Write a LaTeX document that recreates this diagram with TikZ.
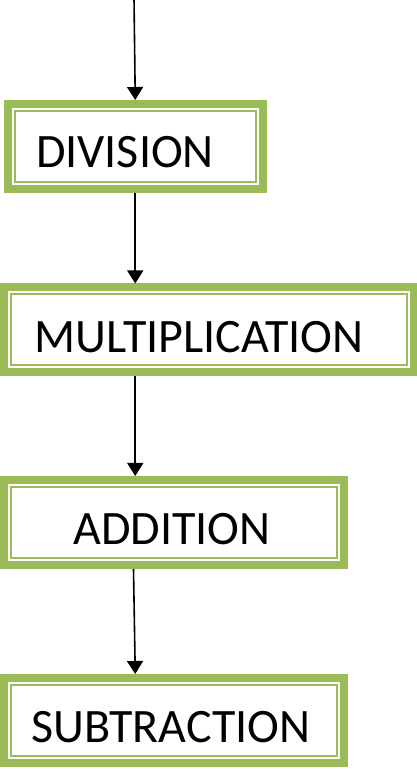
\documentclass[tikz,border=0pt]{standalone}
\usepackage{fontspec}
\setmainfont{Carlito}
\usetikzlibrary{arrows.meta}
\definecolor{olive}{HTML}{9BBB59}
\tikzset{
  box/.style={draw=olive, line width=8pt, fill=white, rectangle, minimum height=85pt, inner sep=0pt},
  inner/.style={draw=olive, line width=2pt},
  lbl/.style={inner sep=0pt, font=\fontsize{48}{52}\selectfont},
  arr/.style={line width=1.6pt, -{Triangle[width=16pt,length=13pt]}}
}
\begin{document}
\begin{tikzpicture}[x=1pt,y=1pt]
\useasboundingbox (0,0) rectangle (417,769);
% boxes
\node[box, minimum width=255.5pt] (b1) at (135.25,622.5) {};
\node[box, minimum width=410pt] (b2) at (209,439) {};
\node[box, minimum width=340pt] (b3) at (174,246.5) {};
\node[box, minimum width=340pt] (b4) at (174,48.5) {};
\foreach \b in {b1,b2,b3,b4}{
  \draw[inner] ([shift={(11,-11)}]\b.north west) rectangle ([shift={(-11,11)}]\b.south east);
}
% labels
\node[lbl] (t1) at (125,616.5) {DIVISION};
\node[lbl] (t2) at (199,432) {MULTIPLICATION};
\node[lbl] (t3) at (172,240) {ADDITION};
\node[lbl] (t4) at (171,42) {SUBTRACTION};
% connectors
\coordinate (top) at (134,771);
\draw[arr] (top) -- (b1.north);
\draw[arr] (b1.south) -- (b2.north -| b1.south);
\draw[arr] (b2.south -| b1.south) -- (b3.north -| b1.south);
\coordinate (c4) at (133.5,0);
\draw[arr] (b3.south -| c4) -- (b4.north -| b1.south);
\end{tikzpicture}
\end{document}
